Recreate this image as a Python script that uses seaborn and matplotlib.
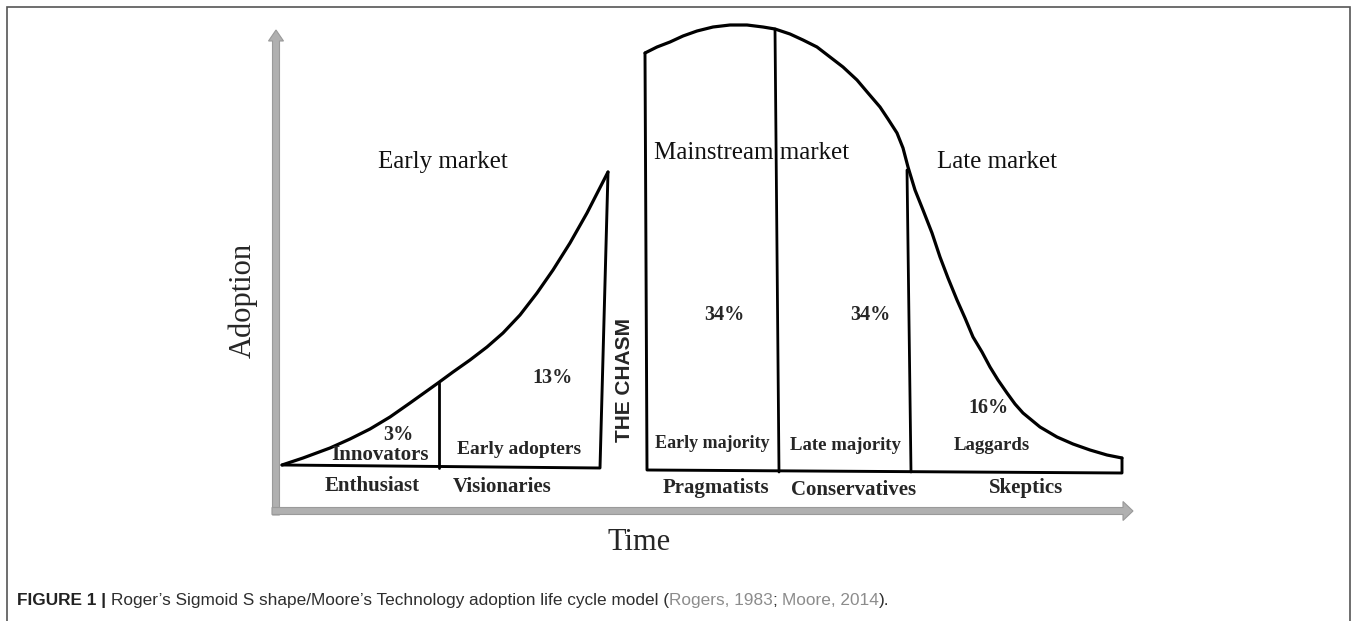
import numpy as np
import pandas as pd
import matplotlib
matplotlib.use("Agg")
import matplotlib.pyplot as plt
from matplotlib.patches import Rectangle
import seaborn as sns

# ---------------- data (Time, Adoption units) ----------------
early_time = [6, 27, 54, 74, 94, 114, 134, 162, 177, 194, 211, 227, 244, 261, 277, 294, 311, 332]
early_adoption = [46, 53, 63, 72, 82, 94, 108, 128, 139, 151, 164, 178, 196, 218, 241, 268, 298, 339]
early_edge_time = [332, 324, 6]          # right edge down, then back along baseline
early_edge_adoption = [339, 43, 46]
innovator_div_time = [163, 163]
innovator_div_adoption = [128, 43]

main_time = [369, 381, 394, 407, 421, 437, 454, 471, 487, 499, 514, 527, 541, 554,
             567, 581, 592, 604, 612, 621, 627, 632,
             639, 647, 656, 664, 672, 681, 689, 697, 706, 714, 722, 731, 739, 747,
             764, 781, 797, 814, 831, 846]
main_adoption = [458, 464, 469, 475, 480, 484, 486, 486, 484, 482, 477, 471, 464, 454,
                 444, 431, 418, 404, 392, 378, 363, 344,
                 321, 301, 278, 254, 233, 211, 193, 174, 159, 144, 131, 118, 107, 98,
                 84, 74, 67, 61, 56, 53]
main_edge_time = [846, 846, 371, 369]
main_edge_adoption = [53, 38, 41, 458]
majority_div_time = [499, 503]
majority_div_adoption = [482, 39]
laggard_div_time = [631, 635]
laggard_div_adoption = [341, 39]

segment_labels = ["Innovators", "Early adopters", "Early majority", "Late majority", "Laggards"]
segment_shares = ["3%", "13%", "34%", "34%", "16%"]
persona_labels = ["Enthusiast", "Visionaries", "Pragmatists", "Conservatives", "Skeptics"]
market_labels = ["Early market", "Mainstream market", "Late market"]

# ---------------- layout ----------------
W, H, DPI = 1357, 621, 100
X0, Y0 = 276, 511   # pixel position of the axis origin

sns.set_theme(style="white")
plt.rcParams["font.family"] = ["Liberation Serif", "DejaVu Serif"]

fig = plt.figure(figsize=(W / DPI, H / DPI), dpi=DPI)
ax = fig.add_axes([0, 0, 1, 1])
ax.set_xlim(-X0, W - X0)
ax.set_ylim(Y0 - H, Y0)
ax.axis("off")

# outer frame
ax.add_patch(Rectangle((7 - X0, Y0 - 650), 1343, 650 - 7, fill=False,
                       edgecolor="#555555", lw=1.2, clip_on=False))

# gray axes arrows
arrow_kw = dict(width=7, length_includes_head=True, facecolor="#b0b0b0",
                edgecolor="#9a9a9a", lw=0.8, zorder=1)
ax.arrow(0, -4, 0, 485, head_width=15, head_length=11, **arrow_kw)
ax.arrow(-4, 0, 861, 0, head_width=19, head_length=10, **arrow_kw)

line_kw = dict(color="black", sort=False, estimator=None, legend=False, ax=ax,
               solid_joinstyle="round", solid_capstyle="round")
sns.lineplot(x=early_time, y=early_adoption, lw=2.3, **line_kw)
sns.lineplot(x=early_edge_time, y=early_edge_adoption, lw=2.1, **line_kw)
sns.lineplot(x=innovator_div_time, y=innovator_div_adoption, lw=2.0, **line_kw)
sns.lineplot(x=main_time, y=main_adoption, lw=2.3, **line_kw)
sns.lineplot(x=main_edge_time, y=main_edge_adoption, lw=2.1, **line_kw)
sns.lineplot(x=majority_div_time, y=majority_div_adoption, lw=2.0, **line_kw)
sns.lineplot(x=laggard_div_time, y=laggard_div_adoption, lw=2.0, **line_kw)

# market labels
market_pos = [(167, 349), (476, 358), (721, 349)]
for lab, (tx, ty) in zip(market_labels, market_pos):
    ax.text(tx, ty, lab, fontsize=18, ha="center", va="center", color="#111111")

# segment labels, shares and personas
seg_pos = [(104, 56), (243, 61), (436, 67), (569, 65), (716, 65)]
seg_size = [15, 14, 13, 13.5, 13.5]
for lab, (tx, ty), fs in zip(segment_labels, seg_pos, seg_size):
    ax.text(tx, ty, lab, fontsize=fs, fontweight="bold", ha="center", va="center")

share_pos = [(122, 76), (276, 133), (448, 196), (594, 196), (712, 103)]
for lab, (tx, ty) in zip(segment_shares, share_pos):
    ax.text(tx, ty, lab, fontsize=14.5, fontweight="bold", ha="center", va="center")

persona_pos = [(96, 25), (226, 24), (440, 23), (578, 21), (750, 23)]
for lab, (tx, ty) in zip(persona_labels, persona_pos):
    ax.text(tx, ty, lab, fontsize=15, fontweight="bold", ha="center", va="center")

ax.text(349, 131, "THE CHASM", fontsize=15, fontweight="bold", rotation=90,
        ha="center", va="center", family=["Liberation Sans", "DejaVu Sans"])

# axis titles
ax.text(-33, 211, "Adoption", fontsize=22, rotation=90, ha="center", va="center")
ax.text(363, -31, "Time", fontsize=22, ha="center", va="center")

# caption
cap_font = ["Liberation Sans Narrow", "Liberation Sans", "DejaVu Sans"]
cap_size = 12.4
cap_parts = [("FIGURE 1 | ", "#222222", "bold"),
             ("Roger\u2019s Sigmoid S shape/Moore\u2019s Technology adoption life cycle model (", "#2e2e2e", "normal"),
             ("Rogers, 1983", "#8c8c8c", "normal"),
             ("; ", "#2e2e2e", "normal"),
             ("Moore, 2014", "#8c8c8c", "normal"),
             (").", "#2e2e2e", "normal")]
prev = ax.text(17 - X0, Y0 - 608, cap_parts[0][0], fontsize=cap_size, color=cap_parts[0][1],
               fontweight=cap_parts[0][2], family=cap_font, ha="left", va="bottom")
for txt, col, wt in cap_parts[1:]:
    prev = ax.annotate(txt, xy=(1, 0), xycoords=prev, fontsize=cap_size, color=col,
                       fontweight=wt, family=cap_font, ha="left", va="bottom")

fig.savefig("out.png", dpi=DPI)
